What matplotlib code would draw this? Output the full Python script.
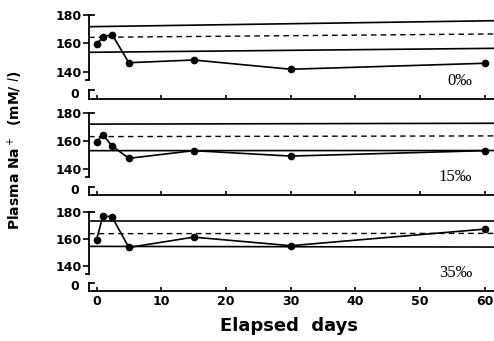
import numpy as np
from matplotlib import pyplot as plt
import matplotlib.transforms as mtransforms

# dias de muestreo
days = [0, 1, 2.4, 5, 15, 30, 60]

# Na+ plasmatico por salinidad (mM/l)
na_0 = [159.6, 164.6, 166.3, 146.5, 148.4, 141.9, 146.1]
na_15 = [159.4, 164.2, 156.3, 147.4, 152.9, 149.0, 152.9]
na_35 = [159.2, 177.2, 176.2, 153.5, 161.2, 154.8, 167.2]

# lineas de referencia (inicio, final)
upper_0, mean_0, lower_0 = [171.8, 176.0], [164.3, 166.7], [153.8, 156.6]
upper_15, mean_15, lower_15 = [172.0, 172.6], [163.0, 163.5], [152.9, 153.0]
upper_35, mean_35, lower_35 = [173.5, 173.5], [163.8, 164.0], [154.3, 153.8]

labels = ['0‰', '15‰', '35‰']
xticks = [0, 10, 20, 30, 40, 50, 60]
yticks = [140, 160, 180]

fig = plt.figure(figsize=(4.94, 3.41), dpi=100)

# posicion de cada panel (pixeles: arriba, abajo)
pos = [(13.6, 99), (111.6, 195), (210.6, 291)]
xlim = (-1.16, 61.4)
ylim = (121, 181)

series = [na_0, na_15, na_35]
refs = [(upper_0, mean_0, lower_0), (upper_15, mean_15, lower_15),
        (upper_35, mean_35, lower_35)]

for i in range(3):
    top, bot = pos[i]
    ax = fig.add_axes([89/494, 1 - bot/341, 405/494, (bot - top)/341])
    ax.set_xlim(xlim)
    ax.set_ylim(ylim)

    up, me, lo = refs[i]
    ax.plot(xlim, up, color='black', lw=1.2)
    ax.plot(xlim, me, color='black', lw=1.0, ls=(0, (4, 3)))
    ax.plot(xlim, lo, color='black', lw=1.2)

    ax.plot(days, series[i], color='black', lw=1.2, marker='o', ms=4.5)

    ax.spines['top'].set_visible(False)
    ax.spines['right'].set_visible(False)
    ax.spines['left'].set_bounds(134, 180)
    ax.spines['left'].set_linewidth(1.3)
    ax.spines['bottom'].set_linewidth(1.3)

    # corte del eje y
    tr = mtransforms.blended_transform_factory(ax.transAxes, ax.transData)
    ax.plot([0, 0], [121, 127], color='black', lw=1.3, transform=tr, clip_on=False)
    ax.plot([0, 0.012], [127, 127], color='black', lw=1.3, transform=tr, clip_on=False)
    ax.plot([0, 0.012], [180, 180], color='black', lw=1.3, transform=tr, clip_on=False)
    ax.plot([-0.008, 0], [134, 134], color='black', lw=1.3, transform=tr, clip_on=False)
    ax.text(-0.025, 124, '0', transform=tr, ha='right', va='center',
            fontsize=9, fontweight='bold')

    ax.set_yticks(yticks)
    ax.set_yticklabels([str(v) for v in yticks], fontsize=9, fontweight='bold')
    ax.tick_params(axis='y', direction='out', length=4, width=1.2, pad=1)
    ax.set_xticks(xticks)
    ax.tick_params(axis='x', direction='in', length=3, width=1.2, pad=3)
    if i < 2:
        ax.set_xticklabels([])
    else:
        ax.set_xticklabels([str(v) for v in xticks], fontsize=9, fontweight='bold')

    ax.text(472/405 - 89/405, 0.12, labels[i], transform=ax.transAxes,
            ha='right', va='bottom', fontsize=12, family='Liberation Serif')

fig.text(15/494, 1 - 150/341, 'Plasma Na$^+$  (mM/ $\\it{l}$)', rotation=90,
         ha='center', va='center', fontsize=10, fontweight='bold')
fig.text(289/494, 1 - 326/341, 'Elapsed  days', ha='center', va='center',
         fontsize=13, fontweight='bold')

plt.savefig('out.png', dpi=100)
